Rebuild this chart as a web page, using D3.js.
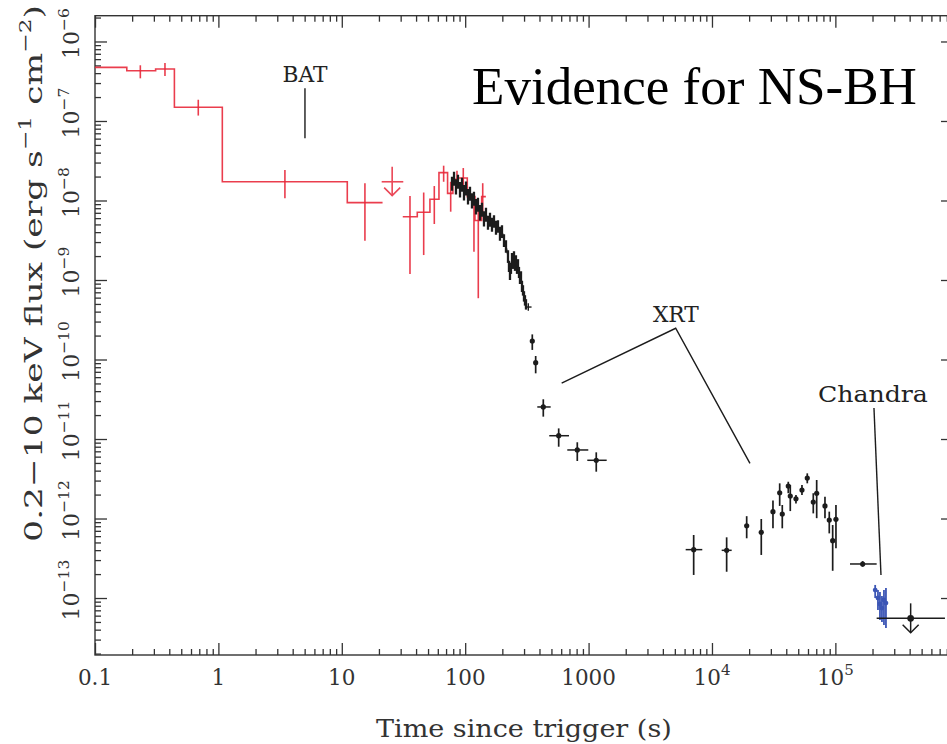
<!DOCTYPE html>
<html>
<head>
<meta charset="utf-8">
<script src="https://cdn.jsdelivr.net/npm/d3@7"></script>
<style>
  body { margin: 0; background: #fff; }
  svg { display: block; }
</style>
</head>
<body>
<svg id="chart" width="947" height="744"></svg>
<script>
// ---------------- data ----------------
// BAT binned light curve: [tStart, tEnd, flux, fluxLow, fluxHigh, tErrorBar]  (s, erg s^-1 cm^-2)
const batEarly = [
  [0.1,   0.181, 4.73e-7, 4.73e-7, 4.73e-7, 0.135],
  [0.181, 0.31,  4.29e-7, 3.44e-7, 5.02e-7, 0.233],
  [0.31,  0.44,  4.50e-7, 3.68e-7, 5.37e-7, 0.369],
  [0.44,  1.076, 1.49e-7, 1.17e-7, 1.85e-7, 0.687],
  [1.076, 11.08, 1.72e-8, 1.07e-8, 2.41e-8, 3.46],
  [11.08, 21.4,  9.4e-9,  3.12e-9, 1.646e-8, 15.4]
];
const batLate = [
  [31.2, 40.9, 6.25e-9, 1.19e-9, 1.14e-8, 35.7],
  [40.9, 51.8, 7.1e-9,  2.06e-9, 1.26e-8, 46.1],
  [51.8, 61.3, 1.035e-8, 5.06e-9, 1.52e-8, 56.2],
  [61.3, 72.0, 2.24e-8, 1.72e-8, 2.74e-8, 66.9],
  [72.0, 79.5, 1.23e-8, 7.23e-9, 1.72e-8, 76.3],
  [79.5, 88.0, 1.85e-8, 1.49e-8, 2.37e-8, 85.8],
  [88.0, 104,  1.92e-8, 1.49e-8, 2.56e-8, 96.5],
  [104,  120,  1.12e-8, 2.27e-9, 1.12e-8, 117.8],
  [120,  136,  5.6e-9,  5.9e-10, 1.01e-8, 127.7],
  [136,  147,  1.12e-8, 7.2e-9,  1.65e-8, 138.7]
];
// BAT upper limit: [tStart, tEnd, flux, barTop, arrowTip, t]
const batUpper = [21.05, 31.5, 1.72e-8, 2.66e-8, 1.15e-8, 25.6];

// XRT windowed-timing light curve: [t, flux, fractional error]
const xrtWT = [
  [78.2, 1.66e-8, 0.2],  [81.2, 1.92e-8, 0.2],  [84.2, 1.52e-8, 0.22], [87.4, 1.76e-8, 0.2],
  [90.8, 1.40e-8, 0.22], [94.2, 1.61e-8, 0.2],  [97.8, 1.28e-8, 0.22], [101.5, 1.44e-8, 0.2],
  [105.4, 1.14e-8, 0.22], [109.4, 1.24e-8, 0.2], [113.5, 1.014e-8, 0.22], [117.8, 1.075e-8, 0.2],
  [122.3, 8.53e-9, 0.22], [126.9, 9.03e-9, 0.2], [131.8, 7.17e-9, 0.22], [136.8, 7.82e-9, 0.2],
  [142.0, 6.02e-9, 0.22], [147.4, 6.76e-9, 0.2], [153.0, 5.37e-9, 0.2], [158.9, 5.85e-9, 0.2],
  [164.9, 5.06e-9, 0.2], [171.2, 5.52e-9, 0.18], [177.7, 4.64e-9, 0.2], [184.4, 4.78e-9, 0.18],
  [191.4, 3.90e-9, 0.2], [198.7, 4.13e-9, 0.18], [206.3, 3.18e-9, 0.18], [214.1, 2.68e-9, 0.18],
  [222.3, 2.00e-9, 0.18], [226.4, 1.50e-9, 0.16], [230.7, 1.19e-9, 0.16], [235.0, 1.42e-9, 0.16],
  [239.5, 1.89e-9, 0.16], [244.0, 1.64e-9, 0.16], [248.6, 2.00e-9, 0.15], [253.2, 1.55e-9, 0.16],
  [257.9, 1.78e-9, 0.15], [262.9, 1.42e-9, 0.16], [267.9, 1.59e-9, 0.15], [272.9, 1.26e-9, 0.16],
  [278.0, 1.06e-9, 0.16], [283.3, 1.12e-9, 0.15], [288.6, 8.41e-10, 0.16], [294.1, 7.48e-10, 0.15],
  [299.6, 6.29e-10, 0.15], [305.2, 5.60e-10, 0.15], [311.0, 4.99e-10, 0.15]
];
// last WT bin: [t, tLow, tHigh, flux, fluxLow, fluxHigh]
const xrtWTEnd = [324.7, 305, 345, 4.57e-10, 4.1e-10, 5.1e-10];

// XRT photon-counting points: [t, tLow, tHigh, flux, fluxLow, fluxHigh]
const xrtPC = [
  [349.8, 349.8, 349.8, 1.71e-10, 1.32e-10, 2.07e-10],
  [372.6, 372.6, 372.6, 9.12e-11, 6.70e-11, 1.107e-10],
  [429.5, 384, 493, 2.53e-11, 1.91e-11, 3.16e-11],
  [572.5, 480, 693.6, 1.10e-11, 8.0e-12, 1.36e-11],
  [810, 672, 994.5, 7.28e-12, 5.29e-12, 9.1e-12],
  [1154, 976, 1402, 5.40e-12, 3.88e-12, 6.8e-12],
  [7107, 6122, 8345, 4.06e-13, 1.95e-13, 6.2e-13],
  [13150, 11985, 14440, 3.98e-13, 2.14e-13, 5.8e-13],
  [19110, 18700, 19500, 8.11e-13, 5.64e-13, 1.07e-12],
  [25090, 25090, 25090, 6.7e-13, 3.48e-13, 9.86e-13],
  [31210, 31210, 31210, 1.22e-12, 7.53e-13, 1.68e-12],
  [35380, 35380, 35380, 2.11e-12, 1.44e-12, 2.77e-12],
  [37130, 37130, 37130, 1.14e-12, 7.53e-13, 1.48e-12],
  [41530, 41530, 41530, 2.56e-12, 2.08e-12, 2.90e-12],
  [43110, 43110, 43110, 1.92e-12, 1.24e-12, 2.64e-12],
  [47940, 47300, 48600, 1.77e-12, 1.55e-12, 1.98e-12],
  [53620, 52900, 54400, 2.28e-12, 1.98e-12, 2.64e-12],
  [59200, 58400, 60000, 3.23e-12, 2.77e-12, 3.7e-12],
  [66220, 66220, 66220, 1.61e-12, 1.16e-12, 2.08e-12],
  [70560, 70560, 70560, 2.08e-12, 1.01e-12, 3.05e-12],
  [82370, 82370, 82370, 1.44e-12, 1.01e-12, 1.88e-12],
  [89250, 89250, 89250, 9.57e-13, 6.5e-13, 1.22e-12],
  [95090, 95090, 95090, 5.26e-13, 2.2e-13, 8.28e-13],
  [101100, 101100, 101100, 9.77e-13, 4.22e-13, 1.48e-12],
  [166400, 131300, 216100, 2.68e-13, 2.47e-13, 2.91e-13]
];
// final upper limit: [t, tLow, tHigh, flux, barTop, arrowTip]
const lateUpper = [407500, 216100, 772700, 5.56e-14, 8.57e-14, 3.66e-14];

// Chandra points: [t, flux, fluxLow, fluxHigh]
const chandra = [
  [210200, 1.26e-13, 1.0e-13, 1.46e-13],
  [221400, 1.0e-13, 7.08e-14, 1.26e-13],
  [229800, 8.41e-14, 5.31e-14, 1.19e-13],
  [238500, 7.48e-14, 5.0e-14, 1.06e-13],
  [247600, 9.44e-14, 4.57e-14, 1.26e-13],
  [257000, 8.65e-14, 4.2e-14, 1.34e-13]
];

// instrument labels and pointer lines (data coordinates)
const instrumentLabels = [
  { text: "BAT", t: 5.03, f: 3.12e-7, width: 45 },
  { text: "XRT", t: 5100, f: 2.98e-10, width: 46 },
  { text: "Chandra", t: 201700, f: 2.94e-11, width: 110 }
];
const pointerLines = [
  [[5.03, 2.58e-7], [5.03, 6.05e-8]],
  [[605, 5.03e-11], [5080, 2.47e-10], [20320, 4.94e-12]],
  [[205500, 2.45e-11], [234200, 1.95e-13]]
];

// tick labels
const xTickValues = [0.1, 1, 10, 100, 1000, 1e4, 1e5];
const xTickLabels = [["0.1"], ["1"], ["10"], ["100"], ["1000"], ["10", "4"], ["10", "5"]];
const yTickValues = [1e-13, 1e-12, 1e-11, 1e-10, 1e-9, 1e-8, 1e-7, 1e-6];
const yTickLabels = [["10", "−13"], ["10", "−12"], ["10", "−11"], ["10", "−10"],
                     ["10", "−9"], ["10", "−8"], ["10", "−7"], ["10", "−6"]];

const titleText = "Evidence for NS-BH";
const xAxisTitle = "Time since trigger (s)";
const yAxisTitle = [["0.2−10 keV flux (erg s", false], ["−1", true], [" cm", false], ["−2", true], [")", false]];

// ---------------- layout ----------------
const svg = d3.select("#chart");
const plot = { left: 95, right: 953, top: 15.7, bottom: 655 };
const x = d3.scaleLog().domain([0.1, 8.98e5]).range([plot.left, plot.right]);
const y = d3.scaleLog().domain([1.92e-14, 2.11e-6]).range([plot.bottom, plot.top]);

const RED = "#e8283a", BLACK = "#1c1c1c", BLUE = "#3b55b5", AXIS = "#333";
const serif = "'DejaVu Serif', serif";

// stretch a text element horizontally so its advance equals the target length
function fitText(g, target) {
  const t = g.select("text");
  const w = t.node().getComputedTextLength();
  t.attr("transform", `scale(${target / w},1)`);
}

// ---------------- axes ----------------
function logTicks(scale) {
  const [a, b] = scale.domain();
  const major = [], minor = [];
  for (let k = Math.floor(Math.log10(a)); k <= Math.ceil(Math.log10(b)); k++) {
    for (let m = 1; m < 10; m++) {
      const v = m * Math.pow(10, k);
      if (v < a * 0.9999 || v > b) continue;
      (m === 1 ? major : minor).push(v);
    }
  }
  return { major, minor };
}
const xt = logTicks(x), yt = logTicks(y);
const axes = svg.append("g").attr("class", "axes");
function tickAxis(axisFn, scale, values, size, transform) {
  axes.append("g").attr("transform", transform)
    .call(axisFn(scale).tickValues(values).tickSize(-size).tickFormat(""))
    .call(g => g.select(".domain").remove())
    .call(g => g.selectAll(".tick line").attr("stroke", AXIS).attr("stroke-width", 1.3));
}
[[xt.major, 12], [xt.minor, 6]].forEach(([v, s]) => {
  tickAxis(d3.axisBottom, x, v, s, `translate(0,${plot.bottom})`);
  tickAxis(d3.axisTop, x, v, s, `translate(0,${plot.top})`);
});
[[yt.major, 12], [yt.minor, 6]].forEach(([v, s]) => {
  tickAxis(d3.axisLeft, y, v, s, `translate(${plot.left},0)`);
  tickAxis(d3.axisRight, y, v, s, `translate(${plot.right},0)`);
});
axes.append("rect")
  .attr("x", plot.left).attr("y", plot.top)
  .attr("width", plot.right - plot.left).attr("height", plot.bottom - plot.top)
  .attr("fill", "none").attr("stroke", AXIS).attr("stroke-width", 1.4);

// x tick labels
xTickValues.forEach((v, i) => {
  const lab = xTickLabels[i];
  const t = axes.append("text")
    .attr("x", x(v)).attr("y", 685)
    .attr("text-anchor", "middle")
    .attr("font-family", serif).attr("font-size", 21.5).attr("fill", AXIS);
  t.append("tspan").text(lab[0]);
  if (lab[1]) t.append("tspan").attr("dy", -10).attr("font-size", 15).text(lab[1]);
});
// y tick labels (rotated)
yTickValues.forEach((v, i) => {
  const lab = yTickLabels[i];
  const t = axes.append("text")
    .attr("transform", `translate(78.5,${y(v) - 8}) rotate(-90)`)
    .attr("text-anchor", "middle")
    .attr("font-family", serif).attr("font-size", 22).attr("fill", AXIS);
  t.append("tspan").text(lab[0]);
  t.append("tspan").attr("dy", -10).attr("font-size", 15.5).text(lab[1]);
});

// axis titles
{
  const g = axes.append("g").attr("transform", "translate(376,736.7)");
  g.append("text").attr("font-family", serif).attr("font-size", 25).attr("fill", AXIS).text(xAxisTitle);
  fitText(g, 296);
}
{
  const g = axes.append("g").attr("transform", "translate(41.7,541.7) rotate(-90)");
  const t = g.append("text").attr("font-family", serif).attr("font-size", 25).attr("fill", AXIS);
  let raised = false;
  yAxisTitle.forEach(([s, sup]) => {
    const ts = t.append("tspan").text(s);
    if (sup && !raised) { ts.attr("dy", -11).attr("font-size", 17); raised = true; }
    else if (!sup && raised) { ts.attr("dy", 11); raised = false; }
  });
  fitText(g, 537);
}

// ---------------- data marks ----------------
svg.append("clipPath").attr("id", "plotClip").append("rect")
  .attr("x", plot.left).attr("y", plot.top)
  .attr("width", plot.right - plot.left).attr("height", plot.bottom - plot.top);
const marks = svg.append("g").attr("clip-path", "url(#plotClip)");
const line = d3.line().x(d => x(d[0])).y(d => y(d[1]));

// BAT step curves with error bars
function drawSteps(bins) {
  const pts = [];
  bins.forEach(b => { pts.push([b[0], b[2]]); pts.push([b[1], b[2]]); });
  marks.append("path").attr("d", line(pts))
    .attr("fill", "none").attr("stroke", RED).attr("stroke-width", 1.6).attr("opacity", 0.9);
  marks.append("g").selectAll("line").data(bins.filter(b => b[3] !== b[4])).join("line")
    .attr("x1", b => x(b[5])).attr("x2", b => x(b[5]))
    .attr("y1", b => y(b[3])).attr("y2", b => y(b[4]))
    .attr("stroke", RED).attr("stroke-width", 1.6).attr("opacity", 0.9);
}
drawSteps(batEarly);
drawSteps(batLate);

// upper-limit marker: horizontal bar, vertical bar and downward chevron
function drawUpper(g, tc, t0, t1, f, top, tip, color, width) {
  g.append("line").attr("x1", x(t0)).attr("x2", x(t1)).attr("y1", y(f)).attr("y2", y(f))
    .attr("stroke", color).attr("stroke-width", width);
  g.append("line").attr("x1", x(tc)).attr("x2", x(tc)).attr("y1", y(top)).attr("y2", y(tip))
    .attr("stroke", color).attr("stroke-width", width);
  const px = x(tc), py = y(tip);
  g.append("path").attr("d", `M${px - 8},${py - 8}L${px},${py}L${px + 8},${py - 8}`)
    .attr("fill", "none").attr("stroke", color).attr("stroke-width", width);
}
{
  const [t0, t1, f, top, tip, tc] = batUpper;
  const g = marks.append("g").attr("opacity", 0.85);
  drawUpper(g, tc, t0, t1, f, top, tip, RED, 1.6);
}

// XRT WT: dense band of error bars
marks.append("path").attr("d", line(xrtWT.map(d => [d[0], d[1]])))
  .attr("fill", "none").attr("stroke", BLACK).attr("stroke-width", 1.4);
marks.append("g").selectAll("line").data(xrtWT).join("line")
  .attr("x1", d => x(d[0])).attr("x2", d => x(d[0]))
  .attr("y1", d => y(d[1] * (1 - d[2]))).attr("y2", d => y(d[1] * (1 + d[2])))
  .attr("stroke", BLACK).attr("stroke-width", 2.3);
{
  const [t, tl, th, f, fl, fh] = xrtWTEnd;
  const g = marks.append("g").attr("stroke", BLACK).attr("stroke-width", 1.4);
  g.append("line").attr("x1", x(tl)).attr("x2", x(th)).attr("y1", y(f)).attr("y2", y(f));
  g.append("line").attr("x1", x(t)).attr("x2", x(t)).attr("y1", y(fl)).attr("y2", y(fh));
}

// XRT PC points
const pc = marks.append("g").selectAll("g").data(xrtPC).join("g");
pc.append("line")
  .attr("x1", d => x(d[1])).attr("x2", d => x(d[2])).attr("y1", d => y(d[3])).attr("y2", d => y(d[3]))
  .attr("stroke", BLACK).attr("stroke-width", 1.5);
pc.append("line")
  .attr("x1", d => x(d[0])).attr("x2", d => x(d[0])).attr("y1", d => y(d[4])).attr("y2", d => y(d[5]))
  .attr("stroke", BLACK).attr("stroke-width", 1.7);
pc.append("circle").attr("cx", d => x(d[0])).attr("cy", d => y(d[3])).attr("r", 2.6).attr("fill", BLACK);

// Chandra points
const ch = marks.append("g").selectAll("g").data(chandra).join("g");
ch.append("line")
  .attr("x1", d => x(d[0])).attr("x2", d => x(d[0])).attr("y1", d => y(d[2])).attr("y2", d => y(d[3]))
  .attr("stroke", BLUE).attr("stroke-width", 1.8);
ch.append("circle").attr("cx", d => x(d[0])).attr("cy", d => y(d[1])).attr("r", 2.4).attr("fill", BLUE);

// late upper limit
{
  const [t, tl, th, f, top, tip] = lateUpper;
  const g = marks.append("g");
  drawUpper(g, t, tl, th, f, top, tip, BLACK, 1.5);
  g.append("circle").attr("cx", x(t)).attr("cy", y(f)).attr("r", 3.4).attr("fill", BLACK);
}

// ---------------- annotations ----------------
const ann = svg.append("g");
pointerLines.forEach(p => {
  ann.append("path").attr("d", line(p)).attr("fill", "none")
    .attr("stroke", BLACK).attr("stroke-width", 1.4);
});
instrumentLabels.forEach(l => {
  const g = ann.append("g").attr("transform", `translate(${x(l.t) - l.width / 2},${y(l.f)})`);
  g.append("text").attr("font-family", serif).attr("font-size", 23).attr("fill", "#222").text(l.text);
  fitText(g, l.width);
});

// title
{
  const g = svg.append("g").attr("transform", "translate(472,103.5)");
  g.append("text").attr("font-family", "'Liberation Serif', 'Times New Roman', serif")
    .attr("font-size", 53).attr("fill", "#000").text(titleText);
  fitText(g, 445);
}
</script>
</body>
</html>
